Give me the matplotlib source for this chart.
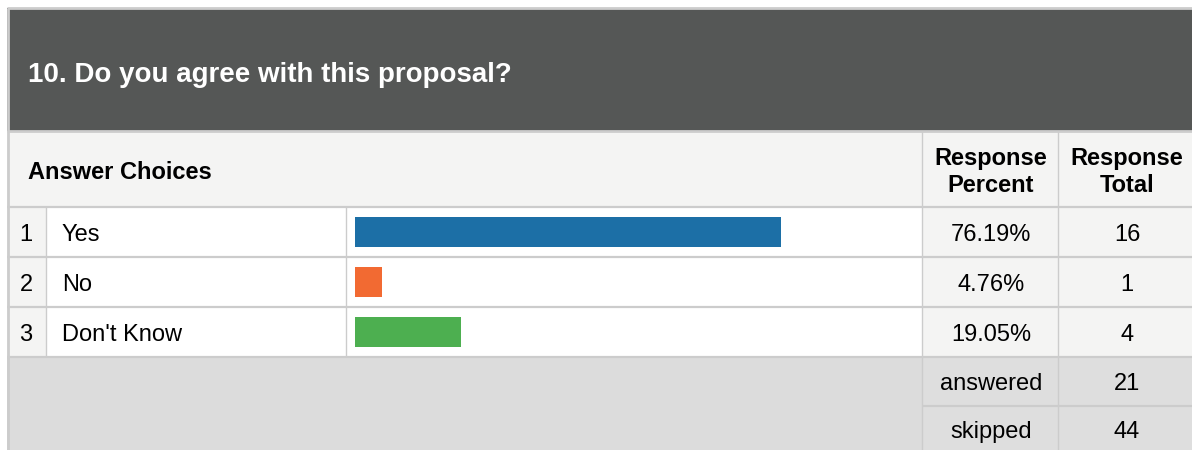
import matplotlib.pyplot as plt
from matplotlib.patches import Rectangle

plt.rcParams['font.family'] = ['Liberation Sans', 'DejaVu Sans']

title = "10. Do you agree with this proposal?"
choices = ["Yes", "No", "Don't Know"]
percents = [76.19, 4.76, 19.05]
totals = [16, 1, 4]
bar_colors = ["#1c6fa6", "#f26a32", "#4daf50"]
answered = 21
skipped = 44

W, H = 1192, 450
fig = plt.figure(figsize=(W / 100, H / 100), dpi=100)
ax = fig.add_axes([0, 0, 1, 1])
ax.set_xlim(0, W)
ax.set_ylim(H, 0)
ax.axis("off")

line_c = "#cccccc"
light = "#f4f4f3"
grey = "#dcdcdc"
fs = 17
fs_title = 20


def box(x0, y0, x1, y1, color):
    ax.add_patch(Rectangle((x0, y0), x1 - x0, y1 - y0, facecolor=color, edgecolor="none"))


def hline(y, x0=7, x1=W, lw=1.6):
    ax.plot([x0, x1], [y, y], color=line_c, lw=lw, solid_capstyle="butt")


def vline(x, y0, y1, lw=1.0):
    ax.plot([x, x], [y0, y1], color=line_c, lw=lw, solid_capstyle="butt")


def txt(x, yc, s, size=fs, **kw):
    # place text so that its capital letters are centred on yc
    cap = 0.68 * size * 100 / 72
    ax.text(x, yc + cap / 2, s, fontsize=size, va="baseline", **kw)


# header blocks
box(7, 8, W, 131, "#555756")
box(7, 131, W, 207, light)
txt(28, 73, title, size=fs_title, color="white", fontweight="bold")
txt(28, 170.5, "Answer Choices", fontweight="bold")
for x, second in [(991, "Percent"), (1127, "Total")]:
    txt(x, 156.5, "Response", fontweight="bold", ha="center")
    txt(x, 183.5, second, fontweight="bold", ha="center")

# answer rows
row_top = 207
row_h = 50
for i, (c, p, t) in enumerate(zip(choices, percents, totals)):
    y0 = row_top + i * row_h
    yc = y0 + row_h / 2 + 1
    box(7, y0, 46, y0 + row_h, light)
    box(46, y0, 922, y0 + row_h, "white")
    box(922, y0, W, y0 + row_h, light)
    txt(26, yc, str(i + 1), ha="center")
    txt(62, yc, c)
    txt(991, yc, f"{p:.2f}%", ha="center")
    txt(1127, yc, str(t), ha="center")

# summary rows
sum_top = row_top + 3 * row_h
box(7, sum_top, W, H, grey)
box(922, sum_top, W, H, "#dedede")
txt(991, sum_top + 25, "answered", ha="center")
txt(1127, sum_top + 25, str(answered), ha="center")
txt(991, sum_top + 73, "skipped", ha="center")
txt(1127, sum_top + 73, str(skipped), ha="center")

# grid lines
hline(8, lw=2)
vline(7.5, 8, H, lw=2)
hline(131, lw=2)
for k in range(4):
    hline(row_top + k * row_h)
hline(sum_top + 49, x0=922)
vline(46, row_top, sum_top)
vline(346, row_top, sum_top)
vline(922, 131, H)
vline(1058, 131, H)

# bar chart inside the rows
bx0, bx1 = 355, 914
bax = fig.add_axes([bx0 / W, 1 - sum_top / H, (bx1 - bx0) / W, 3 * row_h / H])
bax.barh(range(len(choices)), percents, height=0.6, color=bar_colors)
bax.set_xlim(0, 100)
bax.set_ylim(2.5, -0.5)
bax.axis("off")

fig.savefig("out.png", dpi=100)
